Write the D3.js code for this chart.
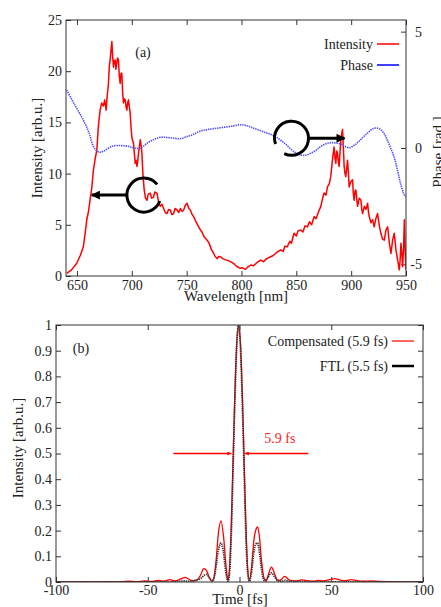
<!DOCTYPE html>
<html><head><meta charset="utf-8">
<script src="https://cdn.jsdelivr.net/npm/d3@7"></script>
<style>
html,body{margin:0;padding:0;background:#fff;}
svg text{font-family:"Liberation Serif","Times New Roman",serif;fill:#222;}
</style>
</head><body>
<svg id="c" width="441" height="607"></svg>
<script>
// ---------------- DATA ----------------
// Panel (a): spectrum
const wavelength = [640.6,645,649.8,653,655.8,657.5,658.9,660.5,661.9,663.5,665.0,666.5,668.1,669.5,671.1,672.5,674.1,675.3,676.6,677.5,678.7,679.5,680.2,681,681.8,682.5,683.3,684,684.8,685.5,686.3,687,687.8,688.6,689.4,690.2,690.9,691.6,692.4,693.2,694.0,694.8,695.5,696.2,697.0,697.8,698.5,699.3,700.1,700.8,701.5,702.3,703.1,703.9,704.7,705.4,706.1,706.9,707.7,708.4,709.2,710.1,711.3,712.5,713.8,715,716.8,718,719.8,721,722.9,724.5,726.0,727.5,729.0,730.5,732.1,733.5,735.1,736.5,738.1,739.5,741.2,742.8,744.3,745.8,747.3,748.8,750.4,752,753.4,755,756.4,758,760,762.5,764,766,768.7,770.5,772.5,774.7,776,777.8,779,780.8,783,785,788,790,793,796,799.1,801,803.7,806,808.3,811,814,817.4,820,823,826.6,829,832,835.7,838,839.5,841.8,844,845.5,847.9,850,851.5,854.0,856,858,860.1,862,864,866.2,868,870,872.3,873.8,875.3,877,878.4,880,881.4,882.8,884.4,885.3,886.0,886.8,887.5,888.3,889.0,889.8,890.6,891.4,892.1,892.9,893.6,894.4,895.1,895.9,896.7,897.4,898.2,899.7,901.3,902.0,902.7,903.5,904.3,905.0,905.8,907.4,908.9,909.6,910.4,912,913.5,915.0,915.8,916.5,918,919.5,921.0,922.5,924.1,925.5,927.1,928.6,930.2,931.8,933.3,934.8,936.3,937.8,939.3,940.9,942.4,943.9,944.6,945.4,946.2,946.9,947.7,948.5,949.2,950.0];
const intensity = [0.26,0.6,1.24,2.0,2.86,4.2,5.47,6.3,7.4,8.6,10.35,11.4,12.3,14.6,16.2,16.9,16.6,17.2,16.2,17.5,18.8,20.5,21.1,22.0,22.9,21.5,20.4,21.0,21.1,20.2,20.8,21.3,21.1,19.5,18.8,19.8,19.8,18.0,16.9,17.3,17.2,16.5,16.2,16.9,17.2,16.5,15.9,14.5,13.5,13.2,13.0,12.0,11.0,11.3,10.7,11.2,12.0,12.6,13.3,12.8,12.0,10.0,8.4,7.6,7.4,8.0,8.1,7.6,7.7,8.2,8.1,7.2,6.8,7.0,6.6,6.2,6.1,6.5,6.45,6.0,6.1,6.6,6.45,6.2,6.6,6.3,6.45,6.9,7.1,6.6,6.45,6.0,5.8,5.4,5.0,4.5,4.3,3.8,3.5,3.2,2.6,2.2,1.9,1.7,1.9,1.88,1.7,1.6,1.5,1.4,1.2,0.9,0.75,0.8,0.65,0.9,1.07,1.0,1.3,1.56,1.4,1.7,1.88,2.0,2.3,2.54,2.4,2.9,2.86,3.4,3.2,4.17,3.9,4.4,4.5,4.3,4.9,4.8,5.3,5.0,5.8,5.6,6.2,6.8,7.5,8.1,7.9,8.7,9.0,9.7,11.2,12.6,11.5,11.0,12.2,12.0,11.2,10.7,12.0,13.3,13.9,14.3,12.5,10.7,10.0,9.7,10.5,11.3,10.2,8.7,9.2,9.4,8.0,7.4,8.3,8.4,7.6,6.8,7.6,7.4,6.6,6.1,6.8,6.5,7.1,6.2,5.8,5.2,5.5,4.8,5.6,6.1,5.0,4.17,3.6,3.5,4.5,4.8,3.2,2.2,3.5,4.17,2.5,1.56,0.6,1.5,3.2,2.2,0.9,2.5,5.5,2.5,0.6];
const phaseWavelength = [640.6,648,655.8,661,665,668,671,675,679,683,688,692.4,697,701.5,707.7,713.8,720,726,735,744,750.4,756,762.5,770,780.8,793,799,805,811,820,829.6,838.7,847.9,854,858,863,868,872,877,881.4,886,890.6,894,898,903,908.9,915,921,926,930,933,936,939,942,945,948.5,950];
const phase = [2.49,1.85,1.20,0.65,0.06,-0.12,-0.18,-0.12,0.0,0.09,0.11,0.10,0.07,0.01,-0.01,0.20,0.36,0.46,0.44,0.40,0.49,0.58,0.73,0.80,0.87,0.95,1.00,0.96,0.85,0.70,0.52,0.23,-0.16,-0.30,-0.31,-0.23,-0.10,0.06,0.18,0.23,0.22,0.17,0.08,0.01,0.12,0.37,0.65,0.85,0.82,0.62,0.34,0.0,-0.37,-0.9,-1.52,-2.02,-2.09];
const xTicksA = [650,700,750,800,850,900,950];
const yTicksA = [0,5,10,15,20,25];
const y2TicksA = [-5,0,5];
const legendA = ["Intensity","Phase"];

// Panel (b): temporal pulses
const timeComp = [-100,-70,-64,-60,-56,-52,-48,-44,-41,-38,-35,-32,-29.5,-27,-25,-22.5,-21,-19.5,-18,-16.6,-15.2,-14,-12.8,-11.5,-10.1,-8.6,-7.3,-6.2,-5.5,-4.5,-3.5,-2.5,-1.5,-0.5,0.5,1.5,2.5,3.5,4.5,5.4,6.6,7.8,9.0,9.8,10.8,11.9,13.2,14.5,15.8,17.4,19,20.5,22,24.7,27,29,31,34,37,40,43,46,49,52,55,58,61,64,68,72,76,82,90,100];
const compensated = [0,0,0.001,0.003,0.001,0.004,0.002,0.006,0.003,0.009,0.004,0.012,0.018,0.008,0.004,0.012,0.03,0.052,0.045,0.02,0.004,0.015,0.08,0.19,0.238,0.17,0.06,0.005,0.05,0.22,0.48,0.74,0.93,1.0,0.93,0.74,0.48,0.22,0.05,0.005,0.06,0.16,0.205,0.214,0.18,0.09,0.02,0.003,0.03,0.058,0.035,0.008,0.006,0.022,0.008,0.004,0.004,0.008,0.005,0.003,0.006,0.004,0.009,0.013,0.007,0.005,0.009,0.005,0.003,0.004,0.002,0.001,0,0];
const timeFTL = [-100,-40,-34,-30,-27,-24.5,-21.5,-18,-16,-14.6,-13.2,-11.6,-10.1,-8.8,-7.5,-6.3,-5.5,-4.5,-3.5,-2.5,-1.5,-0.5,0.5,1.5,2.5,3.5,4.5,5.4,6.4,7.7,8.9,9.8,11,12.2,13.5,15.2,17.4,19.2,21,23,25,27,32,40,100];
const ftl = [0,0,0.002,0.004,0.002,0.006,0.012,0.03,0.012,0.003,0.04,0.12,0.152,0.12,0.04,0.003,0.03,0.18,0.44,0.71,0.92,1.0,0.92,0.71,0.44,0.18,0.03,0.003,0.03,0.11,0.148,0.152,0.11,0.04,0.005,0.015,0.035,0.02,0.004,0.003,0.006,0.002,0.002,0,0];
const xTicksB = [-100,-50,0,50,100];
const yTicksB = [0,0.1,0.2,0.3,0.4,0.5,0.6,0.7,0.8,0.9,1];
const legendB = ["Compensated (5.9 fs)","FTL (5.5 fs)"];
const fwhmLabel = "5.9 fs";
const fwhmEdges = [-4.4, 2.9];   // arrow tips (fs) at half maximum
const fwhmLevel = 0.5;

// ---------------- DRAW ----------------
const svg = d3.select("#c");
const FS = 14;
const SERIF = '"Liberation Serif","Times New Roman",serif';
const fmt = d => String(d);   // hyphen-minus like the original

// Panel A
const A = {l:66, r:406, t:20, b:276};
const xA = d3.scaleLinear().domain([640,950]).range([A.l,A.r]);
const yA = d3.scaleLinear().domain([0,25]).range([A.b,A.t]);
const y2A = d3.scaleLinear().domain([-5.5,5.5]).range([A.b,A.t]);

svg.append("clipPath").attr("id","clipA").append("rect")
  .attr("x",A.l).attr("y",A.t).attr("width",A.r-A.l).attr("height",A.b-A.t);

const gA = svg.append("g");
function styleAxis(g){
  g.attr("font-family",SERIF).attr("font-size",FS);
  g.selectAll("path").remove();
  g.selectAll("line").attr("stroke","#333");
  g.selectAll("text").style("font-size",FS+"px").style("font-family",SERIF).attr("fill","#222");
}
gA.append("g").attr("transform",`translate(0,${A.b})`)
  .call(d3.axisBottom(xA).tickValues(xTicksA).tickSize(-5).tickPadding(4).tickFormat(fmt)).call(styleAxis);
gA.append("g").attr("transform",`translate(0,${A.t})`)
  .call(d3.axisTop(xA).tickValues(xTicksA).tickSize(-5).tickFormat("")).call(styleAxis);
gA.append("g").attr("transform",`translate(${A.l},0)`)
  .call(d3.axisLeft(yA).tickValues(yTicksA).tickSize(-5).tickPadding(4).tickFormat(fmt)).call(styleAxis);
const r2 = gA.append("g").attr("transform",`translate(${A.r},0)`)
  .call(d3.axisRight(y2A).tickValues(y2TicksA).tickSize(-5).tickPadding(4).tickFormat(fmt)).call(styleAxis);
r2.selectAll("text").attr("text-anchor","end").attr("x",16);

// series
const lineInt = d3.line().x((d,i)=>xA(wavelength[i])).y(d=>yA(d));
gA.append("path").datum(intensity).attr("clip-path","url(#clipA)")
  .attr("d",lineInt).attr("fill","none").attr("stroke","#ff0000").attr("stroke-width",1.5)
  .attr("stroke-linejoin","round");
const linePh = d3.line().x((d,i)=>xA(phaseWavelength[i])).y(d=>y2A(d)).curve(d3.curveCatmullRom);
gA.append("path").datum(phase).attr("clip-path","url(#clipA)")
  .attr("d",linePh).attr("fill","none").attr("stroke","#4d4dff").attr("stroke-width",1.6)
  .attr("stroke-dasharray","1.4,0.9");

gA.append("rect").attr("x",A.l).attr("y",A.t).attr("width",A.r-A.l).attr("height",A.b-A.t)
  .attr("fill","none").attr("stroke","#333").attr("stroke-width",1);

// legend A
const legColA = ["#ff0000","#0000ff"];
legendA.forEach((s,i)=>{
  const yy = 44 + i*21;
  gA.append("text").attr("x",373).attr("y",yy).attr("dy","0.35em").attr("text-anchor","end")
    .style("font-size",FS+"px").text(s);
  gA.append("line").attr("x1",377).attr("x2",399).attr("y1",yy).attr("y2",yy)
    .attr("stroke",legColA[i]).attr("stroke-width",1.5);
});
gA.append("text").attr("x",143).attr("y",52).attr("dy","0.35em").attr("text-anchor","middle")
  .style("font-size",FS+"px").text("(a)");

// labels
svg.append("text").attr("transform","translate(37,148) rotate(-90)").attr("text-anchor","middle")
  .attr("dy","0.35em").style("font-size","15px").text("Intensity [arb.u.]");
svg.append("text").attr("transform","translate(438,152) rotate(-90)").attr("text-anchor","middle")
  .attr("dy","0.35em").style("font-size","15px").text("Phase [rad.]");
svg.append("text").attr("x",236).attr("y",301).attr("text-anchor","middle")
  .style("font-size","15px").text("Wavelength [nm]");

// circles & arrows
const defs = svg.append("defs");
defs.append("marker").attr("id","ah").attr("viewBox","0 0 10 10").attr("refX",9).attr("refY",5)
  .attr("markerWidth",3.2).attr("markerHeight",3).attr("orient","auto")
  .append("path").attr("d","M0,0 L10,5 L0,10 z").attr("fill","#000");
function circArrow(cx, cy, gapStart, gapEnd, x2){
  const arc = d3.arc().innerRadius(17).outerRadius(17).startAngle(gapEnd).endAngle(gapStart+2*Math.PI);
  gA.append("path").attr("transform",`translate(${cx},${cy})`).attr("d",arc())
    .attr("fill","none").attr("stroke","#000").attr("stroke-width",3);
  const x1 = x2 < cx ? cx-17 : cx+17;
  gA.append("line").attr("x1",x1).attr("y1",cy).attr("x2",x2).attr("y2",cy)
    .attr("stroke","#000").attr("stroke-width",3).attr("marker-end","url(#ah)");
}
circArrow(xA(711), yA(7.9), 0.89, 1.93, xA(663.5));
circArrow(xA(845.6), y2A(0.42), 3.58, 4.36, xA(894));

// Panel B
const B = {l:56, r:423, t:325, b:582};
const xB = d3.scaleLinear().domain([-100,100]).range([B.l,B.r]);
const yB = d3.scaleLinear().domain([0,1]).range([B.b,B.t]);
svg.append("clipPath").attr("id","clipB").append("rect")
  .attr("x",B.l).attr("y",B.t).attr("width",B.r-B.l).attr("height",B.b-B.t);
const gB = svg.append("g");
gB.append("g").attr("transform",`translate(0,${B.b})`)
  .call(d3.axisBottom(xB).tickValues(xTicksB).tickSize(-5).tickPadding(3).tickFormat(fmt)).call(styleAxis);
gB.append("g").attr("transform",`translate(0,${B.t})`)
  .call(d3.axisTop(xB).tickValues(xTicksB).tickSize(-5).tickFormat("")).call(styleAxis);
gB.append("g").attr("transform",`translate(${B.l},0)`)
  .call(d3.axisLeft(yB).tickValues(yTicksB).tickSize(-5).tickPadding(4).tickFormat(fmt)).call(styleAxis);
gB.append("g").attr("transform",`translate(${B.r},0)`)
  .call(d3.axisRight(yB).tickValues(yTicksB).tickSize(-5).tickFormat("")).call(styleAxis);

const lineC = d3.line().x((d,i)=>xB(timeComp[i])).y(d=>yB(d)).curve(d3.curveMonotoneX);
gB.append("path").datum(compensated).attr("clip-path","url(#clipB)").attr("d",lineC)
  .attr("fill","none").attr("stroke","#ff0000").attr("stroke-width",1.3);
const lineF = d3.line().x((d,i)=>xB(timeFTL[i])).y(d=>yB(d)).curve(d3.curveMonotoneX);
gB.append("path").datum(ftl).attr("clip-path","url(#clipB)").attr("d",lineF)
  .attr("fill","none").attr("stroke","#333").attr("stroke-width",1.8).attr("stroke-dasharray","1.3,0.9");

gB.append("rect").attr("x",B.l).attr("y",B.t).attr("width",B.r-B.l).attr("height",B.b-B.t)
  .attr("fill","none").attr("stroke","#333").attr("stroke-width",1);

// FWHM arrows
defs.append("marker").attr("id","ahr").attr("viewBox","0 0 10 10").attr("refX",10).attr("refY",5)
  .attr("markerWidth",5).attr("markerHeight",4).attr("markerUnits","userSpaceOnUse")
  .attr("orient","auto").append("path").attr("d","M0,0 L10,5 L0,10 z").attr("fill","#ff0000");
gB.append("line").attr("x1",xB(-36)).attr("x2",xB(fwhmEdges[0])).attr("y1",yB(fwhmLevel)).attr("y2",yB(fwhmLevel))
  .attr("stroke","#ff0000").attr("stroke-width",1.5).attr("marker-end","url(#ahr)");
gB.append("line").attr("x1",xB(37.5)).attr("x2",xB(fwhmEdges[1])).attr("y1",yB(fwhmLevel)).attr("y2",yB(fwhmLevel))
  .attr("stroke","#ff0000").attr("stroke-width",1.5).attr("marker-end","url(#ahr)");
gB.append("text").attr("x",xB(22)).attr("y",443).attr("text-anchor","middle")
  .style("font-size",FS+"px").style("fill","#ff2020").text(fwhmLabel);

// legend B
const legColB = ["#ff0000","#000"], legWB=[1.2,2.5];
legendB.forEach((s,i)=>{
  const yy = 341 + i*25;
  gB.append("text").attr("x",388).attr("y",yy).attr("dy","0.35em").attr("text-anchor","end")
    .style("font-size",FS+"px").text(s);
  gB.append("line").attr("x1",392).attr("x2",414).attr("y1",yy).attr("y2",yy)
    .attr("stroke",legColB[i]).attr("stroke-width",legWB[i]);
});
gB.append("text").attr("x",81).attr("y",348).attr("dy","0.35em").attr("text-anchor","middle")
  .style("font-size",FS+"px").text("(b)");
svg.append("text").attr("transform","translate(18,448) rotate(-90)").attr("text-anchor","middle")
  .attr("dy","0.35em").style("font-size","15px").text("Intensity [arb.u.]");
svg.append("text").attr("x",240).attr("y",604).attr("text-anchor","middle")
  .style("font-size","15px").text("Time [fs]");
</script>
</body></html>
